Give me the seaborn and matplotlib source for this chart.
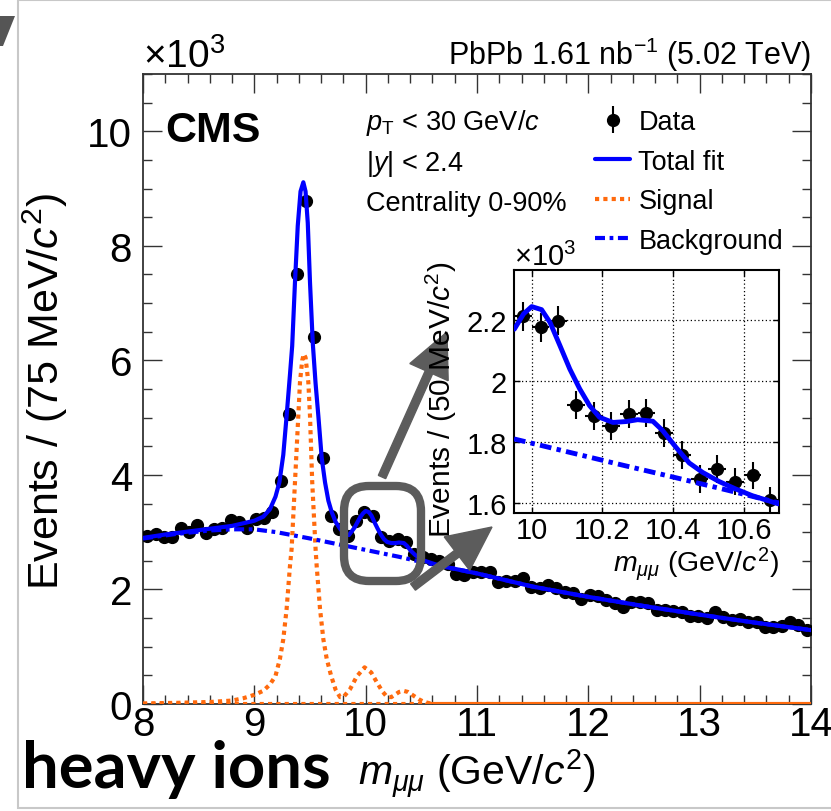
import numpy as np
import matplotlib
matplotlib.use("Agg")
import matplotlib.pyplot as plt
import matplotlib.transforms as mtransforms
from matplotlib.patches import FancyBboxPatch, FancyArrow, Polygon, Rectangle
from matplotlib.ticker import MultipleLocator, FixedLocator, FuncFormatter
import seaborn as sns

# ---------------- data (values in units of 10^3 events) ----------------
main_edges_lo, main_edges_hi, main_nbins = 8.0, 14.0, 80
main_counts = [2.93, 2.97, 2.92, 2.92, 3.07, 3.01, 3.13, 2.99, 3.06, 3.07, 3.22, 3.17, 3.07, 3.23, 3.24, 3.35,
               3.89, 5.06, 7.50, 8.79, 6.40, 4.29, 3.28, 3.06, 2.94, 3.20, 3.35, 3.29, 2.91, 2.85, 2.88, 2.83,
               2.62, 2.57, 2.53, 2.49, 2.44, 2.27, 2.25, 2.31, 2.30, 2.30, 2.13, 2.15, 2.14, 2.20, 2.05, 2.02,
               2.08, 2.03, 1.95, 1.93, 1.84, 1.90, 1.89, 1.82, 1.76, 1.69, 1.78, 1.78, 1.77, 1.65, 1.64, 1.63,
               1.60, 1.53, 1.54, 1.50, 1.61, 1.52, 1.46, 1.49, 1.43, 1.43, 1.34, 1.34, 1.37, 1.43, 1.38, 1.29]

fit_x = [8.0, 8.2, 8.4, 8.6, 8.8, 9.0, 9.08, 9.14, 9.19, 9.225, 9.26, 9.29, 9.32, 9.34, 9.365, 9.39, 9.415,
         9.44, 9.46, 9.48, 9.50, 9.525, 9.55, 9.575, 9.605, 9.635, 9.665, 9.695, 9.73, 9.77, 9.81, 9.85,
         9.90, 9.95, 9.977, 10.0, 10.028, 10.052, 10.08, 10.108, 10.136, 10.164, 10.192, 10.23, 10.268,
         10.30, 10.343, 10.371, 10.408, 10.446, 10.484, 10.531, 10.577, 10.624, 10.70, 11.0, 11.5, 12.0,
         12.5, 13.0, 13.5, 14.0]
fit_y = [2.90, 2.96, 3.01, 3.06, 3.11, 3.20, 3.27, 3.40, 3.62, 3.87, 4.35, 5.03, 5.75, 6.25, 7.36, 8.35, 8.95,
         9.11, 8.95, 8.40, 7.36, 6.30, 5.60, 5.03, 4.30, 3.87, 3.55, 3.35, 3.18, 3.06, 2.97, 2.95,
         3.08, 3.26, 3.33, 3.37, 3.35, 3.29, 3.17, 3.06, 2.96, 2.88, 2.83, 2.81, 2.81,
         2.82, 2.81, 2.76, 2.67, 2.60, 2.55, 2.50, 2.47, 2.44, 2.40, 2.28, 2.05, 1.87,
         1.71, 1.56, 1.42, 1.29]

sig_x = [8.0, 8.3, 8.6, 8.8, 8.9, 9.0, 9.08, 9.14, 9.19, 9.23, 9.26, 9.29, 9.32, 9.335, 9.35, 9.365, 9.38,
         9.395, 9.41, 9.43, 9.445, 9.46, 9.485, 9.50, 9.51, 9.52, 9.535, 9.55, 9.56, 9.59, 9.62, 9.65, 9.69,
         9.73, 9.77, 9.80, 9.86, 9.92, 9.99, 10.05, 10.10, 10.15, 10.19, 10.23, 10.27, 10.30, 10.34, 10.38,
         10.43, 10.48, 10.52, 10.58]
sig_y = [0.01, 0.02, 0.035, 0.06, 0.10, 0.16, 0.23, 0.34, 0.49, 0.79, 1.13, 1.66, 2.41, 2.71, 3.29, 3.87, 4.45,
         5.03, 5.62, 6.00, 6.11, 6.05, 5.62, 5.03, 4.45, 3.87, 3.29, 2.71, 2.41, 1.66, 1.13, 0.79, 0.49,
         0.25, 0.12, 0.12, 0.26, 0.48, 0.64, 0.55, 0.38, 0.22, 0.13, 0.12, 0.17, 0.21, 0.23, 0.21,
         0.145, 0.08, 0.04, 0.01]
sig_base_x = [8.0, 10.55]
sig_zero_x = [10.55, 14.0]

bg_x = [8.0, 8.3, 8.6, 8.8, 9.0, 9.2, 9.5, 9.7, 9.9, 10.1, 10.3, 10.5, 10.7, 11.0, 11.5, 12.0, 12.5, 13.0, 13.5, 14.0]
bg_y = [2.89, 2.97, 3.03, 3.05, 3.05, 3.00, 2.89, 2.81, 2.73, 2.65, 2.57, 2.48, 2.40, 2.28, 2.05, 1.87, 1.71, 1.56, 1.42, 1.29]

# inset (50 MeV bins)
ins_x = [9.975, 10.025, 10.075, 10.125, 10.175, 10.225, 10.275, 10.325, 10.375, 10.425, 10.475, 10.525, 10.575, 10.625, 10.675]
ins_y = [2.212, 2.176, 2.198, 1.922, 1.886, 1.853, 1.892, 1.895, 1.829, 1.757, 1.679, 1.711, 1.670, 1.690, 1.608]
ins_err = [0.048, 0.048, 0.048, 0.046, 0.046, 0.046, 0.046, 0.046, 0.046, 0.045, 0.045, 0.045, 0.045, 0.045, 0.045]
ins_binhalf = 0.025
ins_fit_x = [9.951, 9.977, 10.0, 10.028, 10.052, 10.08, 10.108, 10.136, 10.164, 10.192, 10.23, 10.268, 10.30,
             10.343, 10.371, 10.408, 10.446, 10.484, 10.531, 10.577, 10.624, 10.698]
ins_fit_y = [2.170, 2.220, 2.244, 2.234, 2.192, 2.116, 2.039, 1.974, 1.919, 1.881, 1.864, 1.867, 1.873,
             1.868, 1.837, 1.783, 1.731, 1.700, 1.670, 1.646, 1.624, 1.597]
ins_bg_x = [9.95, 10.1, 10.25, 10.4, 10.55, 10.7]
ins_bg_y = [1.810, 1.768, 1.726, 1.685, 1.643, 1.600]

main_xticks = [8, 9, 10, 11, 12, 13, 14]
main_yticks = [0, 2, 4, 6, 8, 10]
ins_xticks = [10.0, 10.2, 10.4, 10.6]
ins_yticks = [1.6, 1.8, 2.0, 2.2]

# ---------------- style ----------------
sns.set_theme(style="ticks")
plt.rcParams['font.family'] = ['Liberation Sans', 'DejaVu Sans']
plt.rcParams['mathtext.fontset'] = 'custom'
plt.rcParams['mathtext.rm'] = 'Liberation Sans'
plt.rcParams['mathtext.it'] = 'Liberation Sans:italic'
plt.rcParams['mathtext.bf'] = 'Liberation Sans:bold'
for k in ['text.color', 'axes.labelcolor', 'xtick.color', 'ytick.color']:
    plt.rcParams[k] = 'black'

BLUE = '#0000ff'
ORANGE = '#ff6a0d'
GRAY = '#5c5c5c'
W, H = 831, 812
fig = plt.figure(figsize=(W / 100, H / 100), dpi=100)
fig.patch.set_facecolor('white')
pix = mtransforms.Affine2D().scale(1, -1).translate(0, H)

# ---------------- main axes ----------------
ax = fig.add_axes([143 / W, (H - 705) / H, (811 - 143) / W, (705 - 75) / H])
edges = np.linspace(main_edges_lo, main_edges_hi, main_nbins + 1)
centers = 0.5 * (edges[:-1] + edges[1:])
counts = np.array(main_counts)
err = np.sqrt(counts * 1000.0) / 1000.0

data_h = ax.errorbar(centers, counts, yerr=err, fmt='o', color='black', ms=8.5, elinewidth=1.5,
                     capsize=0, zorder=3)

sns.lineplot(x=sig_x, y=sig_y, ax=ax, color=ORANGE, lw=3, estimator=None, sort=False, zorder=4)
sig_line = ax.lines[-1]
sig_line.set_linestyle((0, (1, 1)))
sns.lineplot(x=sig_base_x, y=[0, 0], ax=ax, color=ORANGE, lw=3, estimator=None, sort=False, zorder=4)
ax.lines[-1].set_linestyle((0, (1, 1)))
sns.lineplot(x=sig_zero_x, y=[0, 0], ax=ax, color=ORANGE, lw=3, estimator=None, sort=False, zorder=4)

sns.lineplot(x=bg_x, y=bg_y, ax=ax, color=BLUE, lw=3, estimator=None, sort=False, zorder=5)
bg_line = ax.lines[-1]
bg_line.set_linestyle((0, (2.4, 1.1, 0.9, 1.1)))

sns.lineplot(x=fit_x, y=fit_y, ax=ax, color=BLUE, lw=3, estimator=None, sort=False, zorder=6)
fit_line = ax.lines[-1]

ax.set_xlim(8, 14)
ax.set_ylim(0, 11)
ax.xaxis.set_major_locator(FixedLocator(main_xticks))
ax.xaxis.set_minor_locator(MultipleLocator(0.2))
ax.yaxis.set_major_locator(FixedLocator(main_yticks))
ax.yaxis.set_minor_locator(MultipleLocator(0.5))
ax.xaxis.set_major_formatter(FuncFormatter(lambda v, p: f"{v:g}"))
ax.yaxis.set_major_formatter(FuncFormatter(lambda v, p: f"{v:g}"))
ax.tick_params(which='both', direction='in', top=True, right=True, width=1.0, color='#333333')
ax.tick_params(which='major', length=14, labelsize=29)
ax.tick_params(axis='x', which='major', pad=0.5)
ax.tick_params(axis='y', which='major', pad=8)
ax.tick_params(which='minor', length=6.5)
for s in ax.spines.values():
    s.set_linewidth(1.3)
    s.set_color('#333333')
ax.set_xlabel('')
ax.set_ylabel('')

leg = ax.legend([data_h, fit_line, sig_line, bg_line], ['Data', 'Total fit', 'Signal', 'Background'],
                loc='upper left', bbox_to_anchor=(595, 110), bbox_transform=pix, frameon=False,
                fontsize=19.5, handlelength=1.3, handletextpad=0.3, labelspacing=0.5,
                borderpad=0, borderaxespad=0)

# ---------------- texts ----------------
fig.text(143, 68, '×10$^{3}$', transform=pix, fontsize=28, va='baseline')
fig.text(811, 65, 'PbPb 1.61 nb$^{-1}$ (5.02 TeV)', transform=pix, fontsize=22, ha='right', va='baseline')
fig.text(165, 142, 'CMS', transform=pix, fontsize=31, fontweight='bold', va='baseline')
fig.text(366, 130, r'$p_{\mathrm{T}}$ < 30 GeV/$c$', transform=pix, fontsize=19.5, va='baseline')
fig.text(366, 171, '|$y$| < 2.4', transform=pix, fontsize=19.5, va='baseline')
fig.text(366, 211, 'Centrality 0-90%', transform=pix, fontsize=19.5, va='baseline')
fig.text(45, 392, 'Events / (75 MeV/$c^{2}$)', transform=pix, fontsize=31, rotation=90,
         ha='center', va='center')
fig.text(596, 785, r'$m_{\mu\mu}$ (GeV/$c^{2}$)', transform=pix, fontsize=29.5, ha='right', va='baseline')
fig.text(22, 788, 'heavy ions', transform=pix, fontsize=47, fontweight='bold', va='baseline',
         family=['Lato', 'DejaVu Sans'])

# ---------------- decorations ----------------
box = FancyBboxPatch((344, 487), 77, 95, boxstyle='round,pad=0,rounding_size=25', transform=pix,
                     fill=False, ec=GRAY, lw=6, zorder=8)
fig.add_artist(box)
for (x0, y0, x1, y1) in [(382, 478, 447, 333), (413, 588, 492, 528)]:
    arr = FancyArrow(x0, y0, x1 - x0, y1 - y0, width=8, head_width=42, head_length=44,
                     length_includes_head=True, color=GRAY, transform=pix, zorder=8)
    fig.add_artist(arr)
fig.add_artist(Rectangle((18, 1), 900, 808, transform=pix, fill=False, ec='#c8c8c8', lw=1.5, zorder=0))
fig.add_artist(Polygon([(0, 17), (15, 17), (3, 47), (0, 47)], closed=True, transform=pix,
                       fc='#555555', ec='none', zorder=0))

# ---------------- inset ----------------
axi = fig.add_axes([514 / W, (H - 514) / H, 265 / W, 243 / H])
axi.set_zorder(10)
axi.set_facecolor('white')
axi.errorbar(ins_x, ins_y, yerr=ins_err, xerr=ins_binhalf, fmt='o', color='black', ms=8.5,
             elinewidth=1.5, capsize=0, zorder=3)
sns.lineplot(x=ins_bg_x, y=ins_bg_y, ax=axi, color=BLUE, lw=3.5, estimator=None, sort=False, zorder=5)
axi.lines[-1].set_linestyle((0, (2.4, 1.1, 0.9, 1.1)))
sns.lineplot(x=ins_fit_x, y=ins_fit_y, ax=axi, color=BLUE, lw=3.5, estimator=None, sort=False, zorder=6)
axi.set_xlim(9.95, 10.7)
axi.set_ylim(1.567, 2.364)
axi.xaxis.set_major_locator(FixedLocator(ins_xticks))
axi.yaxis.set_major_locator(FixedLocator(ins_yticks))
axi.xaxis.set_major_formatter(FuncFormatter(lambda v, p: f"{v:g}"))
axi.yaxis.set_major_formatter(FuncFormatter(lambda v, p: f"{v:g}"))
axi.grid(True, ls=(0, (1, 2)), color='black', lw=0.9)
axi.set_axisbelow(True)
axi.tick_params(which='both', direction='in', top=True, right=True, length=4, width=1, labelsize=21)
axi.tick_params(axis='x', pad=2)
axi.tick_params(axis='y', pad=5)
for s in axi.spines.values():
    s.set_linewidth(1.5)
    s.set_color('black')
axi.set_xlabel('')
axi.set_ylabel('')
fig.text(514, 266, '×10$^{3}$', transform=pix, fontsize=21, va='baseline')
fig.text(441, 400, 'Events / (50 MeV/$c^{2}$)', transform=pix, fontsize=21.5, rotation=90,
         ha='center', va='center', zorder=11)
fig.text(779, 572, r'$m_{\mu\mu}$ (GeV/$c^{2}$)', transform=pix, fontsize=20.5, ha='right', va='baseline')

fig.savefig('out.png', dpi=100, facecolor='white')
